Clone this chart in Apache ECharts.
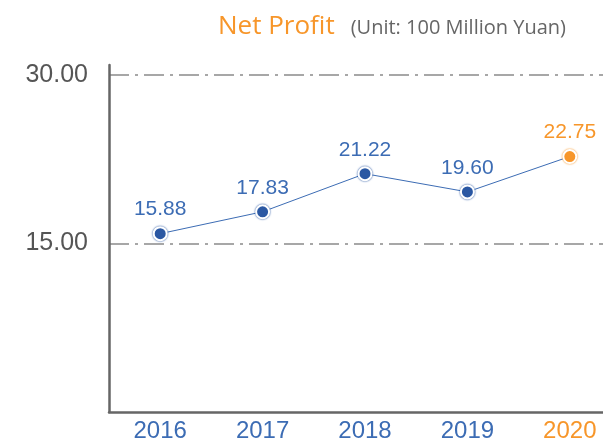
<!DOCTYPE html>
<html>
<head>
<meta charset="utf-8">
<script src="https://cdn.jsdelivr.net/npm/echarts@6/dist/echarts.min.js"></script>
<style>
  html, body { margin: 0; padding: 0; background: #fff; }
  #chart { width: 603px; height: 443px; }
</style>
</head>
<body>
<div id="chart"></div>
<script>
// chart data
const years = ['2016', '2017', '2018', '2019', '2020'];
const netProfit = [15.88, 17.83, 21.22, 19.60, 22.75];
const yTicks = [0, 15, 30];
const yTop = 30.9; // axis line runs a little above the 30 line

const BLUE = '#3c6cb4';
const DOT = '#2b58a3';
const ORANGE = '#f7962a';
const lastIdx = years.length - 1;

const chart = echarts.init(document.getElementById('chart'));

const option = {
  animation: false,
  backgroundColor: '#fff',
  title: {
    text: '{a|Net Profit}{b|(Unit: 100 Million Yuan)}',
    left: 213,
    top: 9,
    textStyle: {
      rich: {
        a: { fontFamily: 'Open Sans', fontSize: 26, fontWeight: 'normal', color: ORANGE },
        b: { fontFamily: 'Open Sans', fontSize: 20, fontWeight: 'normal', color: '#666', padding: [3, 0, 0, 16] }
      }
    }
  },
  grid: { left: 109, right: -18, top: 65, bottom: 31, outerBoundsMode: 'none', containLabel: false },
  xAxis: {
    type: 'category',
    data: years,
    boundaryGap: true,
    axisLine: { lineStyle: { color: '#666', width: 2.5 } },
    axisTick: { show: false },
    axisLabel: {
      margin: 7,
      fontFamily: 'Liberation Sans',
      fontSize: 24,
      color: (v, i) => (i === lastIdx ? ORANGE : BLUE)
    }
  },
  yAxis: {
    type: 'value',
    min: yTicks[0],
    max: yTop,
    interval: yTicks[1] - yTicks[0],
    axisLine: { show: true, lineStyle: { color: '#666', width: 2.5 } },
    axisTick: { show: false },
    axisLabel: {
      showMinLabel: false,
      showMaxLabel: false,
      margin: 21,
      fontFamily: 'Liberation Sans',
      fontSize: 25,
      color: '#555',
      formatter: v => v.toFixed(2)
    },
    splitLine: {
      showMinLine: false,
      showMaxLine: false,
      lineStyle: { color: '#8a8a8a', width: 1.5, type: [20, 6, 3, 6] }
    }
  },
  series: [{
    type: 'line',
    data: netProfit.map((v, i) => ({
      value: v,
      itemStyle: i === lastIdx
        ? { color: ORANGE, shadowColor: ORANGE }
        : { color: DOT, shadowColor: DOT },
      label: { color: i === lastIdx ? ORANGE : BLUE }
    })),
    symbol: 'circle',
    symbolSize: 13,
    lineStyle: { color: BLUE, width: 1 },
    itemStyle: {
      borderColor: '#fff',
      borderWidth: 2,
      shadowBlur: 2
    },
    label: {
      show: true,
      position: 'top',
      distance: 6,
      fontFamily: 'Liberation Sans',
      fontSize: 21,
      formatter: p => p.value.toFixed(2)
    }
  }]
};

chart.setOption(option);
</script>
</body>
</html>
